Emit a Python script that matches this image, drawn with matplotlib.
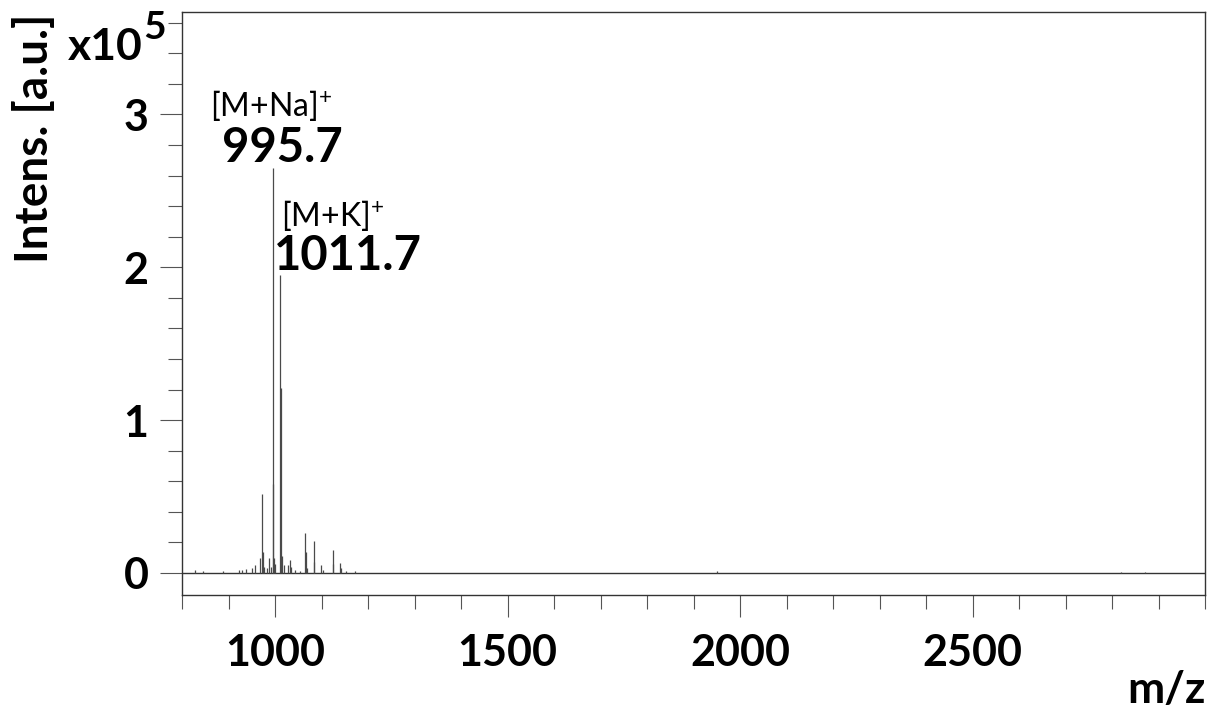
import matplotlib
matplotlib.use("Agg")
import matplotlib.pyplot as plt
import matplotlib.ticker as ticker
import numpy as np

plt.rcParams["font.family"] = ["Lato", "DejaVu Sans"]
plt.rcParams["mathtext.fontset"] = "custom"
plt.rcParams["mathtext.rm"] = "Lato"
plt.rcParams["mathtext.bf"] = "Lato:bold"
plt.rcParams["mathtext.default"] = "regular"

# peak list, m/z and intensity in units of 1e5 a.u.
peakMz = [828, 845, 888, 922, 930, 937, 950, 958, 967, 973, 974, 976,
          983, 987, 991, 995.7, 996.7, 997.7, 1001, 1011.7, 1012.7, 1014.7,
          1019, 1027, 1032, 1035, 1043, 1053, 1065, 1066, 1069, 1083, 1084,
          1098, 1103, 1124, 1125, 1139, 1143, 1153, 1173, 1950, 2820, 2870]
peakInt = [0.02, 0.01, 0.012, 0.02, 0.02, 0.025, 0.03, 0.05, 0.10, 0.52, 0.14, 0.04,
           0.03, 0.10, 0.04, 2.65, 0.58, 0.10, 0.06, 1.95, 1.21, 0.11,
           0.05, 0.05, 0.085, 0.04, 0.02, 0.015, 0.26, 0.14, 0.03, 0.21, 0.07,
           0.05, 0.02, 0.15, 0.06, 0.065, 0.03, 0.01, 0.01, 0.01, 0.005, 0.005]

labelMz = [995.7, 1011.7]
labelIon = ["[M+Na]$^{+}$", "[M+K]$^{+}$"]
labelTxt = ["995.7", "1011.7"]

xTicks = [1000, 1500, 2000, 2500]
yTicks = [0, 1, 2, 3]

W, H = 1210, 710
fig = plt.figure(figsize=(W / 100, H / 100), dpi=100)
ax = fig.add_axes([182 / W, 1 - 595 / H, 1023 / W, 583 / H])

ax.axhline(0, color="#333333", lw=1.0, zorder=1)
ax.vlines(peakMz, 0, peakInt, color="#4a4a4a", lw=0.9, zorder=2)

ax.set_xlim(800, 3000)
ax.set_ylim(-0.144, 3.67)
ax.set_xticks(xTicks)
ax.set_yticks(yTicks)
ax.xaxis.set_minor_locator(ticker.MultipleLocator(100))
ax.yaxis.set_minor_locator(ticker.MultipleLocator(0.2))
ax.tick_params(which="major", length=16, width=0.8, color="#555555",
               labelsize=31, direction="out")
ax.tick_params(which="minor", length=10, width=0.8, color="#555555", direction="out")
ax.tick_params(axis="x", which="major", pad=11)
ax.tick_params(axis="y", which="major", pad=8)
for lbl in ax.get_xticklabels() + ax.get_yticklabels():
    lbl.set_fontweight("bold")
for s in ax.spines.values():
    s.set_color("#333333")
    s.set_linewidth(1.0)

# peak labels
ax.text(860, 2.99, labelIon[0], fontsize=23, ha="left", va="baseline")
ax.text(1015, 2.69, labelTxt[0], fontsize=34, fontweight="bold", ha="center", va="baseline")
ax.text(1013, 2.27, labelIon[1], fontsize=23, ha="left", va="baseline")
ax.text(1157, 1.98, labelTxt[1], fontsize=34, fontweight="bold", ha="center", va="baseline")

# axis labels
fig.text(68 / W, 1 - 60 / H, "x10", fontsize=32, fontweight="bold", ha="left", va="baseline")
fig.text(143 / W, 1 - 39 / H, "5", fontsize=28, fontweight="bold", ha="left", va="baseline")
fig.text(35 / W, 1 - 138 / H, "Intens. [a.u.]", fontsize=33, fontweight="bold",
         rotation=90, ha="center", va="center")
fig.text(1166 / W, 1 - 690 / H, "m/z", fontsize=32, fontweight="bold", ha="center", va="center")

fig.savefig("out.png", dpi=100)
